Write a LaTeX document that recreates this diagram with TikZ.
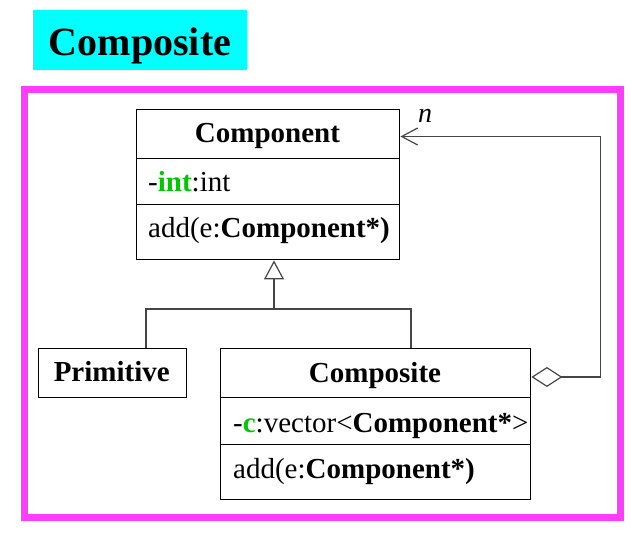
\documentclass[tikz,border=0pt]{standalone}
\usepackage{fontspec}
\setmainfont{Liberation Serif}
\usetikzlibrary{arrows.meta}

\definecolor{framecol}{RGB}{255,60,255}
\definecolor{titlebg}{RGB}{0,255,255}
\definecolor{attrcol}{RGB}{0,200,0}
\definecolor{wire}{RGB}{70,70,70}

\tikzset{
  cls/.style={draw=black, line width=1.4pt, rectangle, inner sep=0pt, anchor=north west},
  lbl/.style={inner sep=0pt, anchor=base, font=\fontsize{29}{34}\selectfont},
  lbll/.style={lbl, anchor=base west},
  conn/.style={draw=wire, line width=1.2pt},
}

\begin{document}
\begin{tikzpicture}[x=1pt, y=-1pt]
\useasboundingbox (0,0) rectangle (631,534);

% heading
\node[fill=titlebg, minimum width=214pt, minimum height=60pt, inner sep=0pt, anchor=north west] (titleBox) at (33,10) {};
\node[anchor=base, inner sep=0pt, font=\fontsize{40}{46}\selectfont\bfseries] (title) at (140,56) {Composite};

% frame
\draw[framecol, line width=7pt] (24.5,89.5) rectangle (620,517.5);

% class Component
\node[cls, minimum width=263pt, minimum height=49pt] (cpHead) at (136,109) {};
\node[cls, minimum width=263pt, minimum height=46pt] (cpAttr) at (136,158) {};
\node[cls, minimum width=263pt, minimum height=55pt] (cpOps) at (136,204) {};
\node[lbl] (cpName) at (267.5,142.5) {\textbf{Component}};
\node[lbll] (cpAttrTxt) at (148,191.5) {-\textcolor{attrcol}{\textbf{int}}:int};
\node[lbll] (cpOpsTxt) at (148,238) {add(e:\textbf{Component*)}};

% class Primitive
\node[cls, minimum width=147.5pt, minimum height=48.5pt] (prim) at (38,348) {};
\node[lbl] (primName) at (111.75,381) {\textbf{Primitive}};

% class Composite
\node[cls, minimum width=310pt, minimum height=49pt] (csHead) at (220,348) {};
\node[cls, minimum width=310pt, minimum height=47pt] (csAttr) at (220,397) {};
\node[cls, minimum width=310pt, minimum height=55pt] (csOps) at (220,444) {};
\node[lbl] (csName) at (375,382) {\textbf{Composite}};
\node[lbll] (csAttrTxt) at (233,432) {-\textcolor{attrcol}{\textbf{c}}:vector<\textbf{Component*}>};
\node[lbll] (csOpsTxt) at (233,478) {add(e:\textbf{Component*)}};

% generalization tree
\coordinate (split) at (274,309);
\coordinate (lp) at (146,309);
\coordinate (rp) at (411,309);
\draw[conn] (lp |- prim.north) -- (lp) -- (rp) -- (rp |- csHead.north);
\draw[conn, -{Triangle[open, length=19pt, width=20pt, line width=1.2pt]}] (split) -- (split |- cpOps.south);

% aggregation
\coordinate (cr) at (600.5,377);
\coordinate (tr) at (600.5,136.5);
\draw[conn, {Diamond[open, length=31pt, width=20pt, line width=1.2pt]}-{Straight Barb[length=16pt, width=17pt, line width=1.2pt]}]
  (csHead.east |- cr) -- (cr) -- (tr) -- (tr -| cpHead.east);
\node[anchor=base west, inner sep=0pt, font=\fontsize{28}{30}\selectfont\itshape] (mult) at (418,123) {n};
\end{tikzpicture}
\end{document}
